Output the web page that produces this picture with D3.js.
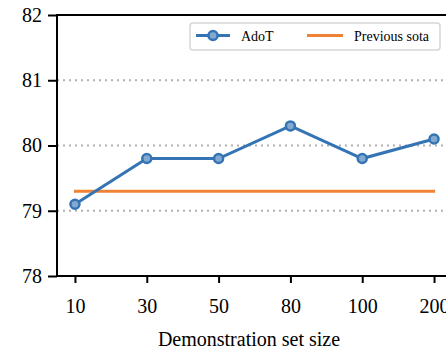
<!DOCTYPE html>
<html>
<head>
<meta charset="utf-8">
<script src="https://cdn.jsdelivr.net/npm/d3@7"></script>
<style>
  body { margin: 0; background: #fff; }
  svg { display: block; }
  text { font-family: "Liberation Serif", "Times New Roman", serif; }
</style>
</head>
<body>
<div id="chart"></div>
<script>
const categories = ['10', '30', '50', '80', '100', '200'];
const adotValues = [79.1, 79.8, 79.8, 80.3, 79.8, 80.1];
const previousSota = 79.3;
const yTicks = [78, 79, 80, 81, 82];
const gridTicks = [79, 80, 81];

const width = 446, height = 351;
const plot = { left: 57, right: 452, top: 15, bottom: 276 };
const serif = 'Liberation Serif';

const svg = d3.select('#chart')
  .append('svg')
  .attr('width', width)
  .attr('height', height);

const x = d3.scalePoint()
  .domain(categories)
  .range([plot.left, plot.right])
  .padding(0.25);

const y = d3.scaleLinear()
  .domain([78, 82])
  .range([plot.bottom, plot.top]);

// dotted grid
svg.append('g')
  .selectAll('line')
  .data(gridTicks)
  .join('line')
    .attr('x1', plot.left)
    .attr('x2', plot.right)
    .attr('y1', d => y(d))
    .attr('y2', d => y(d))
    .attr('stroke', '#b0b0b0')
    .attr('stroke-width', 2)
    .attr('stroke-dasharray', '2,4');

// previous sota line
svg.append('line')
  .attr('x1', x(categories[0]) - 1)
  .attr('x2', x(categories[categories.length - 1]) + 1)
  .attr('y1', y(previousSota))
  .attr('y2', y(previousSota))
  .attr('stroke', '#ef8234')
  .attr('stroke-width', 3);

// AdoT line
const line = d3.line()
  .x((d, i) => x(categories[i]))
  .y(d => y(d));

svg.append('path')
  .datum(adotValues)
  .attr('d', line)
  .attr('fill', 'none')
  .attr('stroke', '#3474b4')
  .attr('stroke-width', 3);

svg.append('g')
  .selectAll('circle')
  .data(adotValues)
  .join('circle')
    .attr('cx', (d, i) => x(categories[i]))
    .attr('cy', d => y(d))
    .attr('r', 4.5)
    .attr('fill', '#84a9cf')
    .attr('stroke', '#3474b4')
    .attr('stroke-width', 2.5);

// axes
const yAxis = svg.append('g')
  .attr('transform', `translate(${plot.left},0)`)
  .call(d3.axisLeft(y).tickValues(yTicks).tickFormat(d3.format('d')).tickSize(9).tickPadding(6));

const xAxis = svg.append('g')
  .attr('transform', `translate(0,${plot.bottom})`)
  .call(d3.axisBottom(x).tickSize(7).tickPadding(16));

[yAxis, xAxis].forEach(a => {
  a.attr('font-family', serif).attr('font-size', 20);
  a.select('.domain').remove();
  a.selectAll('line').attr('stroke', '#000').attr('stroke-width', 2);
  a.selectAll('text').attr('fill', '#000');
});

// spines
svg.append('rect')
  .attr('x', plot.left)
  .attr('y', plot.top)
  .attr('width', plot.right - plot.left)
  .attr('height', plot.bottom - plot.top)
  .attr('fill', 'none')
  .attr('stroke', '#000')
  .attr('stroke-width', 2);

// axis title
svg.append('text')
  .attr('x', 249)
  .attr('y', 346)
  .attr('text-anchor', 'middle')
  .attr('font-family', serif)
  .attr('font-size', 20)
  .text('Demonstration set size');

// legend
const legend = svg.append('g').attr('transform', 'translate(190,23)');
legend.append('rect')
  .attr('width', 250)
  .attr('height', 27)
  .attr('rx', 3)
  .attr('fill', '#fff')
  .attr('stroke', '#d6d6d6')
  .attr('stroke-width', 1.5);

legend.append('line')
  .attr('x1', 6).attr('x2', 40).attr('y1', 12.5).attr('y2', 12.5)
  .attr('stroke', '#3474b4').attr('stroke-width', 3);
legend.append('circle')
  .attr('cx', 23).attr('cy', 12.5).attr('r', 4.5)
  .attr('fill', '#84a9cf').attr('stroke', '#3474b4').attr('stroke-width', 2.5);
legend.append('text')
  .attr('x', 51).attr('y', 17.5)
  .attr('font-family', serif)
  .attr('font-size', 14)
  .text('AdoT');

legend.append('line')
  .attr('x1', 117).attr('x2', 153).attr('y1', 12.5).attr('y2', 12.5)
  .attr('stroke', '#ef8234').attr('stroke-width', 3);
legend.append('text')
  .attr('x', 164).attr('y', 17.5)
  .attr('font-family', serif)
  .attr('font-size', 14)
  .text('Previous sota');
</script>
</body>
</html>
